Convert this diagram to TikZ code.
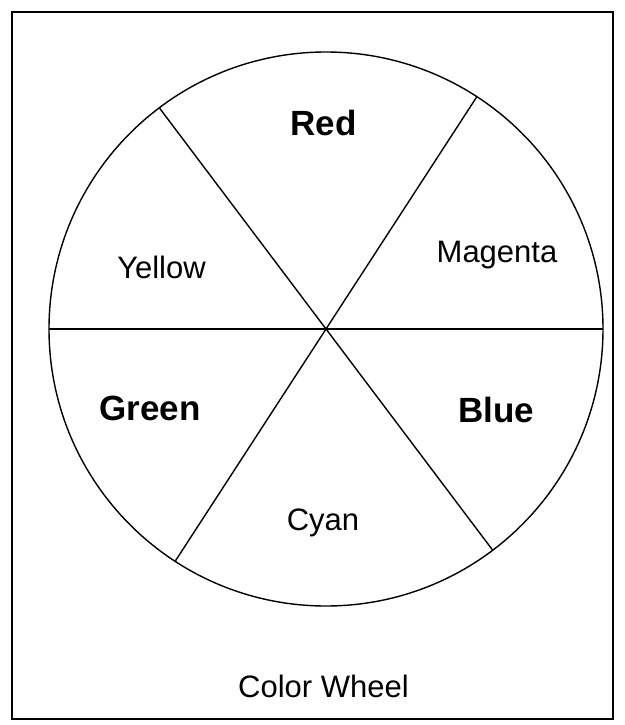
\documentclass[tikz,border=0pt]{standalone}
\usepackage{fontspec}
\setmainfont{Liberation Sans}
\usetikzlibrary{positioning}

\begin{document}
\begin{tikzpicture}[x=1pt, y=-1pt,
  rim/.style={circle, draw, line width=1.4pt, minimum size=554pt, inner sep=0pt, outer sep=0pt},
  spoke/.style={line width=1.4pt},
  hue/.style={font=\fontsize{31}{36}\selectfont, anchor=base, inner sep=0pt},
  primary/.style={hue, font=\fontsize{35}{40}\selectfont\bfseries},
  frame/.style={draw, line width=2pt}
]
\useasboundingbox (0,0) rectangle (624,725);
\draw[frame] (12,12) rectangle (613,719);

\node[rim] (wheel) at (326,329) {};
\draw[spoke] (wheel.180) -- (wheel.0);
\draw[spoke] (wheel.127) -- (wheel.-53);
\draw[spoke] (wheel.57) -- (wheel.237);

\node[primary] (red) at (323.5,135) {Red};
\node[hue] (magenta) at (497,262) {Magenta};
\node[hue] (yellow) at (161.5,278) {Yellow};
\node[primary] (green) at (150,420) {Green};
\node[primary] (blue) at (496.5,422) {Blue};
\node[hue] (cyan) at (323,530) {Cyan};

\node[hue] (caption) at (323.5,697) {Color Wheel};
\end{tikzpicture}
\end{document}
